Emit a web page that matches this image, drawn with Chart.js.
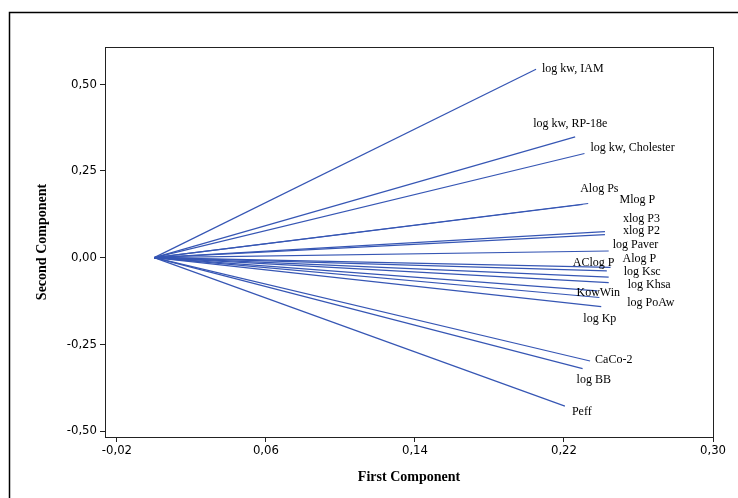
<!DOCTYPE html>
<html>
<head>
<meta charset="utf-8">
<script src="https://cdn.jsdelivr.net/npm/chart.js@4"></script>
<style>
  html, body { margin: 0; padding: 0; background: #fff; }
  #wrap { width: 738px; height: 498px; }
</style>
</head>
<body>
<div id="wrap"><canvas id="loadingChart" width="738" height="498"></canvas></div>
<script>
// Loading plot - variable names and their loadings on the first two components
const variables = ['log kw, IAM', 'log kw, RP-18e', 'log kw, Cholester', 'Alog Ps', 'Mlog P',
    'xlog P3', 'xlog P2', 'log Paver', 'AClog P', 'Alog P', 'log Ksc', 'log Khsa',
    'KowWin', 'log PoAw', 'log Kp', 'CaCo-2', 'log BB', 'Peff'];
const firstComp = [0.205, 0.226, 0.231, 0.233, 0.230, 0.242, 0.242, 0.244, 0.243, 0.245,
    0.244, 0.244, 0.238, 0.240, 0.239, 0.234, 0.230, 0.2205];
const secondComp = [0.543, 0.348, 0.300, 0.156, 0.153, 0.075, 0.066, 0.019, -0.038, -0.028,
    -0.056, -0.072, -0.096, -0.141, -0.115, -0.298, -0.320, -0.428];
const xTicks = [-0.02, 0.06, 0.14, 0.22, 0.30];
const yTicks = [-0.50, -0.25, 0.00, 0.25, 0.50];

// where each name sits relative to the end of its line (px)
const labelOffsets = [[6, 0], [-42, -13], [6, -6], [-8, -15], [37, -5], [18, -13], [18, -4],
    [4, -6], [-34, -8], [12, -8], [15, -5], [19, 2], [-21, 2], [26, -4], [-16, 21],
    [5, -1], [-6, 11], [7, 6]];

const lineColor = '#3656b4';
const fmt = v => v.toFixed(2).replace('.', ',');

const datasets = variables.map((name, i) => ({
    label: name,
    data: [{x: 0, y: 0}, {x: firstComp[i], y: secondComp[i]}],
    showLine: true,
    borderColor: lineColor,
    borderWidth: 1.2,
    pointRadius: 0
}));

const decorPlugin = {
    id: 'decor',
    beforeDraw(chart) {
        const c = chart.ctx;
        c.save();
        c.fillStyle = '#fff';
        c.fillRect(0, 0, chart.width, chart.height);
        // outer frame (cut at right and bottom)
        c.strokeStyle = '#000';
        c.lineWidth = 1.5;
        c.beginPath();
        c.moveTo(9.5, chart.height);
        c.lineTo(9.5, 12.5);
        c.lineTo(chart.width, 12.5);
        c.stroke();
        c.restore();
    },
    afterDraw(chart) {
        const c = chart.ctx;
        const a = chart.chartArea;
        const xs = chart.scales.x, ys = chart.scales.y;
        c.save();
        c.strokeStyle = '#222';
        c.lineWidth = 1;
        c.strokeRect(Math.round(a.left) + 0.5, Math.round(a.top) + 0.5,
            Math.round(a.right - a.left), Math.round(a.bottom - a.top));
        c.fillStyle = '#000';
        c.font = '12px "Liberation Serif", "DejaVu Serif", serif';
        c.textBaseline = 'middle';
        c.textAlign = 'left';
        variables.forEach((name, i) => {
            const px = xs.getPixelForValue(firstComp[i]);
            const py = ys.getPixelForValue(secondComp[i]);
            c.fillText(name, px + labelOffsets[i][0], py + labelOffsets[i][1]);
        });
        c.restore();
    }
};

const tickFont = {family: '"Liberation Sans Narrow", "DejaVu Sans Condensed", "Liberation Sans", sans-serif', size: 13};
const titleFont = {family: '"Liberation Serif", "DejaVu Serif", serif', size: 14, weight: 'bold'};

const ctx = document.getElementById('loadingChart').getContext('2d');
const loadingChart = new Chart(ctx, {
    type: 'scatter',
    data: {datasets: datasets},
    options: {
        responsive: false,
        animation: false,
        layout: {padding: {left: 9, top: 47, right: 25, bottom: 0}},
        plugins: {
            legend: {display: false},
            tooltip: {enabled: false}
        },
        scales: {
            x: {
                type: 'linear',
                min: -0.0264,
                max: 0.30,
                afterBuildTicks: s => { s.ticks = xTicks.map(v => ({value: v})); },
                afterFit: s => { s.height = 61; },
                grid: {drawOnChartArea: false, tickLength: 5, color: '#222'},
                border: {color: '#222'},
                ticks: {color: '#000', font: tickFont, padding: 1, maxRotation: 0,
                    callback: v => fmt(v)},
                title: {display: true, text: 'First Component', color: '#000',
                    font: titleFont, padding: {top: 0, bottom: 12}}
            },
            y: {
                type: 'linear',
                min: -0.517,
                max: 0.607,
                afterBuildTicks: s => { s.ticks = yTicks.map(v => ({value: v})); },
                afterFit: s => { s.width = 96; },
                grid: {drawOnChartArea: false, tickLength: 5, color: '#222'},
                border: {color: '#222'},
                ticks: {color: '#000', font: tickFont, padding: 3,
                    callback: v => fmt(v)},
                title: {display: true, text: 'Second Component', color: '#000',
                    font: titleFont, padding: {top: 25, bottom: 0}}
            }
        }
    },
    plugins: [decorPlugin]
});
</script>
</body>
</html>
